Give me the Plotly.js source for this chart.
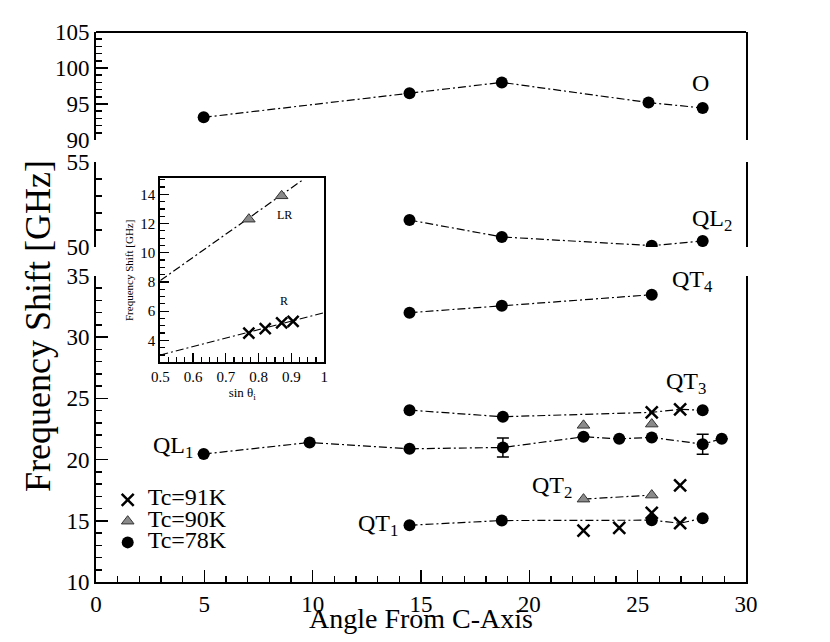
<!DOCTYPE html>
<html>
<head>
<meta charset="utf-8">
<script src="https://cdn.plot.ly/plotly-3.0.1.min.js"></script>
<style>html,body{margin:0;padding:0;background:#fff;}#chart{width:830px;height:642px;}</style>
</head>
<body>
<div id="chart"></div>
<script>
// ---------- data ----------
// Mode O (top segment, Tc=78K)
const oAngle = [4.97, 14.47, 18.73, 25.5, 28.0];
const oFreq  = [93.15, 96.5, 98.0, 95.2, 94.45];
// Mode QL2 (middle segment, Tc=78K)
const ql2Angle = [14.47, 18.73, 25.65, 28.0];
const ql2Freq  = [51.58, 50.59, 50.08, 50.35];
// Mode QT4 (Tc=78K)
const qt4Angle = [14.47, 18.73, 25.65];
const qt4Freq  = [32.0, 32.57, 33.47];
// Mode QT3
const qt3Angle78 = [14.47, 18.78, 28.0];
const qt3Freq78  = [24.04, 23.5, 24.04];
const qt3Angle91 = [25.65, 26.96];
const qt3Freq91  = [23.86, 24.1];
// Mode QL1 (Tc=78K) with error bars
const ql1Angle = [4.97, 9.86, 14.47, 18.78, 22.5, 24.15, 25.65, 28.0, 28.88];
const ql1Freq  = [20.45, 21.4, 20.88, 20.99, 21.86, 21.7, 21.81, 21.26, 21.7];
const ql1Err   = [null, null, null, 0.78, null, null, null, 0.82, null];
// Mode QT2 (Tc=90K)
const qt2Angle90 = [22.5, 25.65];
const qt2Freq90  = [16.77, 17.1];
// other Tc=90K points
const extraAngle90 = [22.5, 25.65];
const extraFreq90  = [22.8, 22.9];
// Mode QT1
const qt1Angle78 = [14.47, 18.73, 25.65, 28.0];
const qt1Freq78  = [14.64, 15.02, 15.05, 15.21];
const qt1Angle91 = [26.96];
const qt1Freq91  = [14.8];
// other Tc=91K points
const extraAngle91 = [22.5, 24.15, 25.65, 26.96];
const extraFreq91  = [14.2, 14.43, 15.65, 17.9];

// Inset
const lrSin  = [0.77, 0.87];
const lrFreq = [12.3, 13.9];
const rSin   = [0.77, 0.82, 0.87, 0.905];
const rFreq  = [4.5, 4.8, 5.2, 5.3];
const lrFitSin  = [0.5, 0.935];
const lrFitFreq = [8.1, 15.0];
const rFitSin   = [0.5, 1.0];
const rFitFreq  = [3.0, 5.9];

const xTickVals = [0, 5, 10, 15, 20, 25, 30];
const legendNames = ['Tc=91K', 'Tc=90K', 'Tc=78K'];

// ---------- helpers ----------
function merge(xa, ya, xb, yb) {
  const pts = xa.map((x, i) => [x, ya[i]]).concat(xb.map((x, i) => [x, yb[i]]));
  pts.sort((a, b) => a[0] - b[0]);
  return {x: pts.map(p => p[0]), y: pts.map(p => p[1])};
}

const SERIF = 'Liberation Serif';
const DASH = '8px,3px,2px,3px';
const lineStyle = {color: 'black', width: 1.2, dash: DASH};

function lineTrace(x, y, yaxis, xaxis) {
  return {x: x, y: y, mode: 'lines', line: lineStyle, showlegend: false,
          hoverinfo: 'skip', xaxis: xaxis || 'x', yaxis: yaxis};
}
const circle = {symbol: 'circle', size: 12, color: 'black'};
const cross = {symbol: 'x-thin-open', size: 12, color: 'black', line: {width: 2.5, color: 'black'}};
const tri = {symbol: 'triangle-up', size: 11, color: '#8a8a8a', line: {width: 1, color: '#333'}};

const qt3Line = merge(qt3Angle78, qt3Freq78, qt3Angle91, qt3Freq91);
const qt1Line = merge(qt1Angle78, qt1Freq78, qt1Angle91, qt1Freq91);

const traces = [
  lineTrace(oAngle, oFreq, 'y3'),
  lineTrace(ql2Angle, ql2Freq, 'y2'),
  lineTrace(qt4Angle, qt4Freq, 'y'),
  lineTrace(qt3Line.x, qt3Line.y, 'y'),
  lineTrace(ql1Angle, ql1Freq, 'y'),
  lineTrace(qt2Angle90, qt2Freq90, 'y'),
  lineTrace(qt1Line.x, qt1Line.y, 'y'),
  // Tc=91K crosses
  {x: qt3Angle91.concat(qt1Angle91, extraAngle91), y: qt3Freq91.concat(qt1Freq91, extraFreq91),
   mode: 'markers', marker: cross, name: '<span style="font-size:24px">' + legendNames[0] + '</span>',
   legendrank: 1, xaxis: 'x', yaxis: 'y'},
  // Tc=90K triangles
  {x: qt2Angle90.concat(extraAngle90), y: qt2Freq90.concat(extraFreq90),
   mode: 'markers', marker: tri, name: '<span style="font-size:24px">' + legendNames[1] + '</span>',
   legendrank: 2, xaxis: 'x', yaxis: 'y'},
  // Tc=78K circles
  {x: ql1Angle, y: ql1Freq, mode: 'markers', marker: circle, showlegend: false,
   error_y: {type: 'data', array: ql1Err, width: 6, thickness: 1.5, color: 'black'},
   xaxis: 'x', yaxis: 'y'},
  {x: qt4Angle.concat(qt3Angle78, qt1Angle78), y: qt4Freq.concat(qt3Freq78, qt1Freq78),
   mode: 'markers', marker: circle, name: '<span style="font-size:24px">' + legendNames[2] + '</span>',
   legendrank: 3, xaxis: 'x', yaxis: 'y'},
  {x: ql2Angle, y: ql2Freq, mode: 'markers', marker: circle, showlegend: false, xaxis: 'x', yaxis: 'y2'},
  {x: oAngle, y: oFreq, mode: 'markers', marker: circle, showlegend: false, xaxis: 'x', yaxis: 'y3'},
  // inset
  lineTrace(lrFitSin, lrFitFreq, 'y4', 'x2'),
  lineTrace(rFitSin, rFitFreq, 'y4', 'x2'),
  {x: lrSin, y: lrFreq, mode: 'markers', marker: Object.assign({}, tri, {size: 11}), showlegend: false, xaxis: 'x2', yaxis: 'y4'},
  {x: rSin, y: rFreq, mode: 'markers', marker: Object.assign({}, cross, {size: 11}), showlegend: false, xaxis: 'x2', yaxis: 'y4'}
];

function tickFont(size) { return {family: SERIF, size: size, color: 'black'}; }
function yAxis(domain, range, dtick, tickvals) {
  const a = {domain: domain, range: range, anchor: 'x', showline: true, linewidth: 2, linecolor: 'black',
    mirror: true, ticks: 'inside', ticklen: 12, tickwidth: 1.5, tickcolor: 'black',
    minor: {dtick: 1, ticks: 'inside', ticklen: 6, tickwidth: 1.5, tickcolor: 'black'},
    showgrid: false, zeroline: false, tickfont: tickFont(23), fixedrange: true};
  if (tickvals) { a.tickmode = 'array'; a.tickvals = tickvals; } else { a.dtick = dtick; a.tick0 = 0; }
  return a;
}

const ann = (text, x, y, yref, size) => ({text: text, x: x, y: y, xref: 'x', yref: yref, showarrow: false,
  font: {family: SERIF, size: size || 24, color: 'black'}, xanchor: 'center', yanchor: 'middle'});

const layout = {
  width: 830, height: 642,
  font: {family: SERIF, size: 22, color: 'black'},
  margin: {l: 96, r: 84, t: 32, b: 60},
  paper_bgcolor: 'white', plot_bgcolor: 'rgba(0,0,0,0)',
  showlegend: true,
  legend: {x: 0.018, y: 0.1775, xanchor: 'left', yanchor: 'top', bgcolor: 'rgba(0,0,0,0)',
           font: {family: SERIF, size: 14, color: 'black'}, itemwidth: 30},
  xaxis: {domain: [0, 1], range: [0, 30], anchor: 'y', tickmode: 'array', tickvals: xTickVals,
    showline: true, linewidth: 2, linecolor: 'black', mirror: false,
    ticks: 'inside', ticklen: 12, tickwidth: 1.5, tickcolor: 'black',
    minor: {dtick: 1, ticks: 'inside', ticklen: 6, tickwidth: 1.5, tickcolor: 'black'},
    showgrid: false, zeroline: false, tickfont: tickFont(23), fixedrange: true},
  yaxis: yAxis([0, 0.5564], [10, 35], 5),
  yaxis2: yAxis([0.6091, 0.7642], [50, 55], null, [50, 55]),
  yaxis3: yAxis([0.8036, 1], [90, 105], 5),
  xaxis2: {domain: [0.0989, 0.3512], range: [0.5, 1], anchor: 'y4', dtick: 0.1, tick0: 0,
    showline: true, linewidth: 2, linecolor: 'black', mirror: true,
    ticks: 'inside', ticklen: 9, tickwidth: 1.2, tickcolor: 'black',
    minor: {dtick: 0.025, ticks: 'inside', ticklen: 5, tickwidth: 1.2, tickcolor: 'black'},
    showgrid: false, zeroline: false, tickfont: tickFont(15),
    title: {text: 'sin θ<sub>i</sub>', font: {family: SERIF, size: 13, color: 'black'}, standoff: 4},
    fixedrange: true},
  yaxis4: {domain: [0.3995, 0.734], range: [2.5, 15.1], anchor: 'x2', dtick: 2, tick0: 0,
    showline: true, linewidth: 2, linecolor: 'black', mirror: true,
    ticks: 'inside', ticklen: 9, tickwidth: 1.2, tickcolor: 'black',
    minor: {dtick: 0.5, ticks: 'inside', ticklen: 5, tickwidth: 1.2, tickcolor: 'black'},
    showgrid: false, zeroline: false, tickfont: tickFont(15),
    title: {text: 'Frequency Shift [GHz]', font: {family: SERIF, size: 11, color: 'black'}, standoff: 4},
    fixedrange: true},
  shapes: [
    {type: 'line', xref: 'paper', yref: 'paper', x0: 0, x1: 1, y0: 1, y1: 1, line: {color: 'black', width: 2}}
  ],
  annotations: [
    ann('O', 27.9, 97.96, 'y3'),
    ann('QL<sub>2</sub>', 28.43, 51.6, 'y2'),
    ann('QT<sub>4</sub>', 27.55, 34.55, 'y'),
    ann('QT<sub>3</sub>', 27.24, 26.25, 'y'),
    ann('QL<sub>1</sub>', 3.56, 21.0, 'y'),
    ann('QT<sub>2</sub>', 21.03, 17.75, 'y'),
    ann('QT<sub>1</sub>', 13.03, 14.67, 'y'),
    {text: 'LR', x: 0.879, y: 12.6, xref: 'x2', yref: 'y4', showarrow: false,
     font: {family: SERIF, size: 12, color: 'black'}},
    {text: 'R', x: 0.877, y: 6.7, xref: 'x2', yref: 'y4', showarrow: false,
     font: {family: SERIF, size: 12, color: 'black'}},
    {text: 'Angle From C-Axis', x: 0.5, y: -0.066, xref: 'paper', yref: 'paper', showarrow: false,
     xanchor: 'center', yanchor: 'middle', font: {family: SERIF, size: 28, color: 'black'}},
    {text: 'Frequency Shift [GHz]', x: -0.0892, y: 0.4655, xref: 'paper', yref: 'paper', showarrow: false,
     textangle: -90, xanchor: 'center', yanchor: 'middle', font: {family: SERIF, size: 36, color: 'black'}}
  ]
};

Plotly.newPlot('chart', traces, layout, {displayModeBar: false, staticPlot: true});
</script>
</body>
</html>
